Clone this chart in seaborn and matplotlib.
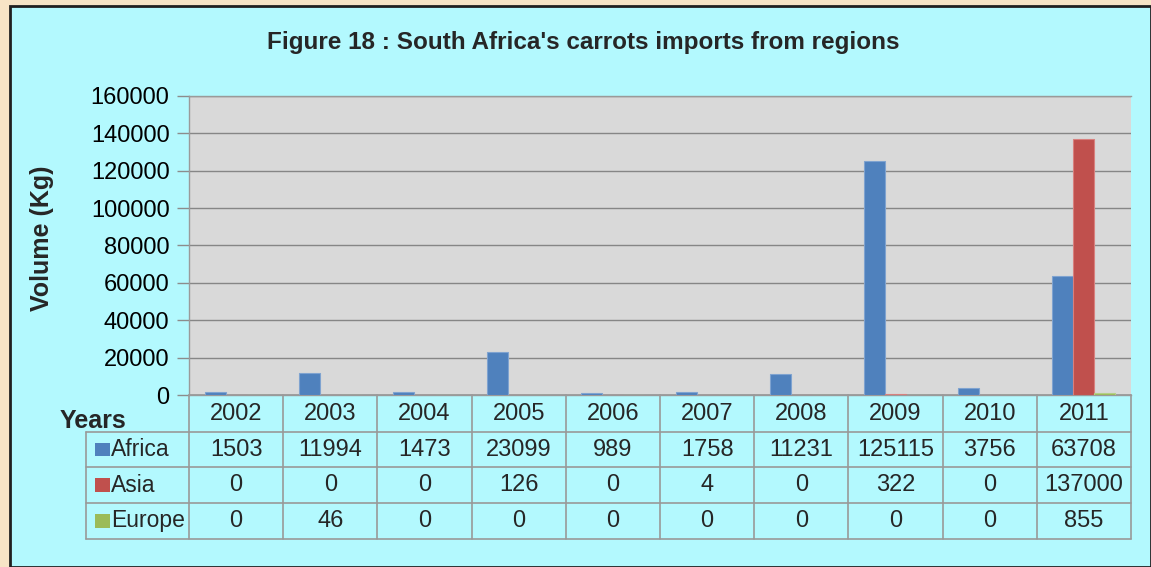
import matplotlib
matplotlib.use("Agg")
import matplotlib.pyplot as plt
from matplotlib.patches import Rectangle
from matplotlib.transforms import blended_transform_factory
import seaborn as sns
import pandas as pd

years = ["2002", "2003", "2004", "2005", "2006", "2007", "2008", "2009", "2010", "2011"]
regions = ["Africa", "Asia", "Europe"]
africa = [1503, 11994, 1473, 23099, 989, 1758, 11231, 125115, 3756, 63708]
asia = [0, 0, 0, 126, 0, 4, 0, 322, 0, 137000]
europe = [0, 46, 0, 0, 0, 0, 0, 0, 0, 855]
colors = ["#4F81BD", "#C0504D", "#9BBB59"]
edge_colors = ["#7FA3D0", "#D8807E", "#B5CF86"]
yticks = [0, 20000, 40000, 60000, 80000, 100000, 120000, 140000, 160000]
title = "Figure 18 : South Africa's carrots imports from regions"

fam = "Liberation Sans"
fs = 17

series = [africa, asia, europe]
rows = []
for r, vals in zip(regions, series):
    for y, v in zip(years, vals):
        rows.append({"Year": y, "Region": r, "Volume": v})
df = pd.DataFrame(rows)

sns.set_theme(style="white")
plt.rcParams["font.family"] = [fam, "DejaVu Sans"]

W, H = 1151, 567
fig = plt.figure(figsize=(W / 100, H / 100), dpi=100)
fig.patch.set_facecolor("#F7E4C6")

# chart area background
fig.add_artist(Rectangle((10 / W, 0), (W - 10) / W, (H - 6) / H, transform=fig.transFigure,
                         facecolor="#B3F9FE", edgecolor="#202020", linewidth=2, zorder=0))

left, right = 189 / W, 1131 / W
top, bottom = 1 - 96 / H, 1 - 395 / H
ax = fig.add_axes([left, bottom, right - left, top - bottom])
ax.set_facecolor("#D9D9D9")

sns.barplot(data=df, x="Year", y="Volume", hue="Region", hue_order=regions, order=years,
            palette=colors, width=0.67, ax=ax, legend=False, saturation=1)
for i, cont in enumerate(ax.containers):
    for p in cont:
        p.set_edgecolor(edge_colors[i])
        p.set_linewidth(0.8)
        p.set_zorder(3)

ax.set_ylim(0, 160000)
ax.set_xlim(-0.5, len(years) - 0.5)
ax.set_yticks(yticks)
ax.set_yticklabels([str(t) for t in yticks], fontsize=fs, color="black")
ax.tick_params(axis="y", length=9, width=1, color="#8C8C8C", direction="out", pad=5, left=True)
ax.tick_params(axis="x", bottom=False, labelbottom=False)
ax.set_xlabel("")
ax.set_ylabel("")
ax.grid(axis="y", color="#868686", linewidth=1)
ax.set_axisbelow(True)
for s in ["left", "bottom", "top"]:
    ax.spines[s].set_visible(True)
    ax.spines[s].set_color("#9A9A9A")
    ax.spines[s].set_linewidth(1)
ax.spines["right"].set_visible(False)

fig.text(0.507, 1 - 43 / H, title, ha="center", va="center", fontsize=fs + 0.5, fontweight="bold")
fig.text(42 / W, 1 - 238 / H, "Volume (Kg)", rotation=90, ha="center", va="center",
         fontsize=fs + 1, fontweight="bold")
fig.text(93 / W, 1 - 421 / H, "Years", ha="center", va="center", fontsize=fs + 1, fontweight="bold")

# data table
tr = blended_transform_factory(ax.transData, ax.transAxes)
px = 299.0
bounds = [0, -(432 - 395) / px, -(467 - 395) / px, -(503 - 395) / px, -(539 - 395) / px]
xl = -0.5 - (189 - 86) / ((1131 - 189) / len(years))
xr = len(years) - 0.5
lc = "#999999"
ax.plot([-0.5, xr], [bounds[0]] * 2, transform=tr, color=lc, lw=1.2, clip_on=False)
for b in bounds[1:]:
    ax.plot([xl, xr], [b, b], transform=tr, color=lc, lw=1.2, clip_on=False)
for i in range(len(years) + 1):
    ax.plot([i - 0.5, i - 0.5], [bounds[0], bounds[-1]], transform=tr, color=lc, lw=1.2, clip_on=False)
ax.plot([xl, xl], [bounds[1], bounds[-1]], transform=tr, color=lc, lw=1.2, clip_on=False)

for i, y in enumerate(years):
    ax.text(i, (bounds[0] + bounds[1]) / 2, y, transform=tr, ha="center", va="center", fontsize=fs)
for r, (name, vals) in enumerate(zip(regions, series)):
    yc = (bounds[r + 1] + bounds[r + 2]) / 2
    for i, v in enumerate(vals):
        ax.text(i, yc, str(v), transform=tr, ha="center", va="center", fontsize=fs)
    ax.add_patch(Rectangle((xl + 0.1, yc - 0.023), 0.15, 0.046, transform=tr,
                           facecolor=colors[r], edgecolor="none", clip_on=False))
    ax.text(xl + 0.27, yc, name, transform=tr, ha="left", va="center", fontsize=fs - 0.5)

fig.savefig("out.png", dpi=100, facecolor=fig.get_facecolor())
